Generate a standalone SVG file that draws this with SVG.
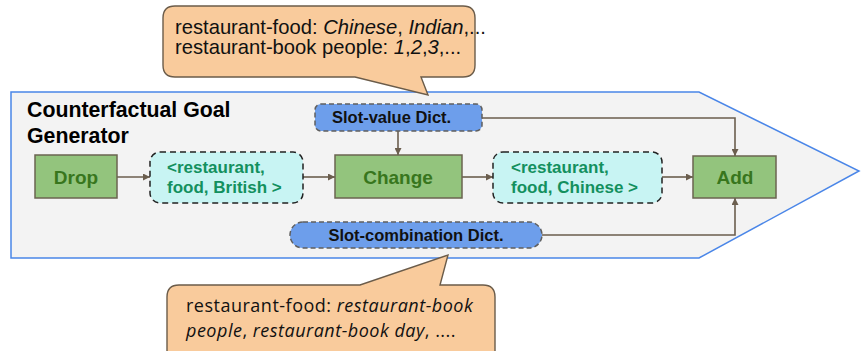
<svg xmlns="http://www.w3.org/2000/svg" width="861" height="351" viewBox="0 0 861 351">
  <style>
    .lbl { font-family: "Liberation Sans", Arial, sans-serif; }
    .bold { font-weight: bold; }
    .op rect { fill: #93c47d; stroke: #6b6450; stroke-width: 1.5; }
    .op text { font-family: "Liberation Sans", Arial, sans-serif; font-weight: bold; font-size: 19px; fill: #38761d; text-anchor: middle; }
    .tuple rect { fill: #c8f4f3; stroke: #222; stroke-width: 1.5; stroke-dasharray: 6 4; }
    .tuple text { font-family: "Liberation Sans", Arial, sans-serif; font-weight: bold; font-size: 17px; fill: #13905e; }
    .dict rect { fill: #6d9eeb; stroke: #5f5f5f; stroke-width: 1.5; stroke-dasharray: 5 3; }
    .dict text { font-family: "Liberation Sans", Arial, sans-serif; font-weight: bold; font-size: 16.5px; fill: #111; }
    .callout path { fill: #f9cb9c; stroke: #6b5c4a; stroke-width: 1.4; }
    .conn { fill: none; stroke: #6b5e4e; stroke-width: 1.6; }
    .it { font-style: italic; }
  </style>
  <defs>
    <marker id="arrow" viewBox="0 0 10 10" refX="10" refY="5" markerWidth="7" markerHeight="7" markerUnits="userSpaceOnUse" orient="auto">
      <path d="M0,0 L10,5 L0,10 Z" fill="#6b5e4e"/>
    </marker>
  </defs>

  <!-- generator frame -->
  <g id="generator">
    <path d="M11,92 H699 L859,171 L699,258 H11 Z" fill="#f3f3f3" stroke="#4a86e8" stroke-width="1.5"/>
    <text class="lbl bold" font-size="21.3px" fill="#000"><tspan x="27" y="117">Counterfactual Goal</tspan><tspan x="27" y="143">Generator</tspan></text>
  </g>

  <!-- connectors -->
  <g id="connectors">
    <line class="conn" x1="117" y1="177" x2="150" y2="177" marker-end="url(#arrow)"/>
    <line class="conn" x1="303" y1="177" x2="335" y2="177" marker-end="url(#arrow)"/>
    <line class="conn" x1="462" y1="177" x2="493" y2="177" marker-end="url(#arrow)"/>
    <line class="conn" x1="662" y1="177" x2="693" y2="177" marker-end="url(#arrow)"/>
    <line class="conn" x1="398" y1="131" x2="398" y2="155" marker-end="url(#arrow)"/>
    <polyline class="conn" points="482,118 735,118 735,156" marker-end="url(#arrow)"/>
    <polyline class="conn" points="542,235 735,235 735,198" marker-end="url(#arrow)"/>
  </g>

  <g id="drop" class="op">
    <rect x="35" y="155" width="82" height="43"/>
    <text x="76" y="184">Drop</text>
  </g>

  <g id="tuple-british" class="tuple">
    <rect x="150" y="152" width="153" height="51" rx="10"/>
    <text><tspan x="167" y="173">&lt;restaurant,</tspan><tspan x="167" y="193">food, British &gt;</tspan></text>
  </g>

  <g id="change" class="op">
    <rect x="335" y="155" width="127" height="43"/>
    <text x="398" y="184">Change</text>
  </g>

  <g id="tuple-chinese" class="tuple">
    <rect x="493" y="152" width="169" height="51" rx="10"/>
    <text><tspan x="511" y="173">&lt;restaurant,</tspan><tspan x="511" y="193">food, Chinese &gt;</tspan></text>
  </g>

  <g id="add" class="op">
    <rect x="693" y="156" width="83" height="42"/>
    <text x="735" y="184">Add</text>
  </g>

  <g id="slot-value-dict" class="dict">
    <rect x="315" y="104" width="167" height="27" rx="6"/>
    <text x="332" y="123">Slot-value Dict.</text>
  </g>

  <g id="slot-combination-dict" class="dict">
    <rect x="290" y="222" width="252" height="26" rx="13"/>
    <text x="416" y="241" text-anchor="middle">Slot-combination Dict.</text>
  </g>

  <!-- example callouts -->
  <g id="slot-value-examples" class="callout">
    <path d="M175,6 H463 Q475,6 475,18 V65 Q475,77 463,77 H421 L428,95 L355,77 H175 Q163,77 163,65 V18 Q163,6 175,6 Z"/>
    <text class="lbl" font-size="20.2px" fill="#111"><tspan x="175" y="34">restaurant-food: <tspan class="it">Chinese</tspan>, <tspan class="it">Indian</tspan>,...</tspan><tspan x="175" y="54">restaurant-book people: <tspan class="it">1</tspan>,<tspan class="it">2</tspan>,<tspan class="it">3</tspan>,...</tspan></text>
  </g>

  <g id="slot-combination-examples" class="callout">
    <path d="M179,285 H360 L448,255 L440,285 H483 Q495,285 495,297 V360 H167 V297 Q167,285 179,285 Z"/>
    <text font-family="'Open Sans', 'Noto Sans', sans-serif" font-size="18px" letter-spacing="0.5" fill="#111"><tspan x="186" y="312">restaurant-food: <tspan class="it">restaurant-book</tspan></tspan><tspan x="186" y="336.6"><tspan class="it">people</tspan>, <tspan class="it">restaurant-book day</tspan>, ....</tspan></text>
  </g>
</svg>
